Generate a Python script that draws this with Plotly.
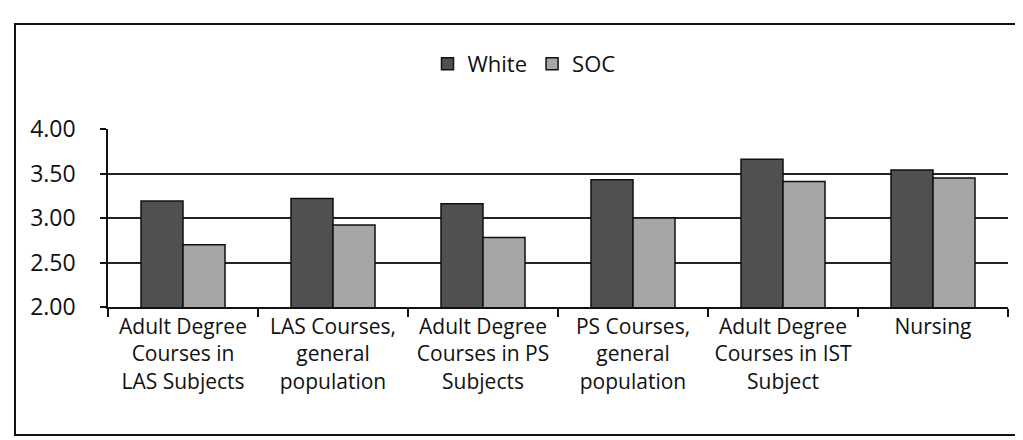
import plotly.graph_objects as go

categories = [
    "Adult Degree<br>Courses in<br>LAS Subjects",
    "LAS Courses,<br>general<br>population",
    "Adult Degree<br>Courses in PS<br>Subjects",
    "PS Courses,<br>general<br>population",
    "Adult Degree<br>Courses in IST<br>Subject",
    "Nursing",
]
white = [3.19, 3.22, 3.16, 3.43, 3.66, 3.54]
soc = [2.70, 2.92, 2.78, 3.00, 3.41, 3.45]
y_ticks = [2.0, 2.5, 3.0, 3.5, 4.0]

FONT = "Open Sans"

fig = go.Figure()
fig.add_trace(go.Bar(name="White", x=categories, y=white,
                     marker=dict(color="#505050", line=dict(color="#111111", width=1.5))))
fig.add_trace(go.Bar(name="SOC", x=categories, y=soc,
                     marker=dict(color="#a6a6a6", line=dict(color="#111111", width=1.5))))

# plot area: x 100..1000, y 121..299 px
L, R, T, B = 100, 23, 121, 141
pw, ph = 1023 - L - R, 440 - T - B

def px_to_paper_x(px):
    return (px - L) / pw

def px_to_paper_y(py):
    return (440 - B - py) / ph

fig.update_layout(
    width=1023, height=440,
    margin=dict(l=L, r=R, t=T, b=B, autoexpand=False),
    paper_bgcolor="white", plot_bgcolor="white",
    barmode="group", bargap=0.44, bargroupgap=0,
    font=dict(family=FONT, size=22, color="#111111"),
    showlegend=True,
    legend=dict(orientation="h", x=px_to_paper_x(516), xanchor="center",
                y=px_to_paper_y(56), yanchor="middle",
                font=dict(size=22), itemwidth=30, bgcolor="rgba(0,0,0,0)"),
    xaxis=dict(showline=True, linecolor="#111111", linewidth=1.5,
               ticks="outside", tickson="boundaries", ticklen=8,
               tickcolor="#111111", tickwidth=1.5, tickangle=0, automargin=False,
               tickfont=dict(size=21), showgrid=False),
    yaxis=dict(range=[2, 4], tickvals=y_ticks, tickformat=".2f",
               showline=True, linecolor="#111111", linewidth=1.5,
               ticks="outside", ticklen=6, tickcolor="#111111", tickwidth=1.5,
               showgrid=True, gridcolor="#222222", gridwidth=1.5, automargin=False,
               tickfont=dict(size=23), ticklabelstandoff=20, zeroline=False),
    shapes=[dict(type="rect", xref="paper", yref="paper",
                 x0=px_to_paper_x(7), x1=px_to_paper_x(1040),
                 y0=px_to_paper_y(427), y1=px_to_paper_y(16),
                 line=dict(color="#111111", width=2), layer="below")],
)

fig.write_html("out.html")
